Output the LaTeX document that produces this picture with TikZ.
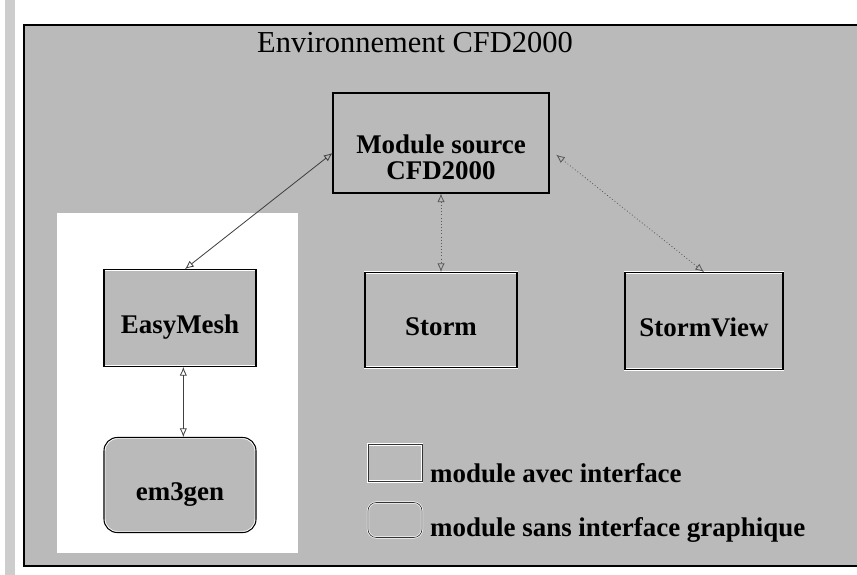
\documentclass[tikz,border=0pt]{standalone}
\usepackage{fontspec}
\setmainfont{Liberation Serif}
\usetikzlibrary{arrows.meta,positioning,backgrounds}
\definecolor{scangray}{RGB}{186,186,186}
\definecolor{stripgray}{RGB}{205,205,205}

\begin{document}
\begin{tikzpicture}[
  x=0.3mm, y=-0.3mm,
  mod/.style={draw=white, double=black, double distance=0.9pt, line width=0.8pt,
              fill=scangray, font=\fontsize{23}{22}\selectfont\bfseries,
              align=center, inner sep=0pt, text height=9.5mm, text depth=0pt},
  modr/.style={mod, rounded corners=4mm},
  legbox/.style={draw=white, double=black!80, double distance=0.6pt, line width=0.6pt,
                 fill=scangray, inner sep=0pt, minimum width=16.2mm},
  legtxt/.style={font=\fontsize{23}{26}\selectfont\bfseries, inner sep=0pt, anchor=west},
  link/.style={{Latex[open,length=2.6mm,width=2.2mm]}-{Latex[open,length=2.6mm,width=2.2mm]},
               draw=black!75, line width=0.7pt},
  dots/.style={link, dotted, draw=black!65}
]
\useasboundingbox (0,0) rectangle (857,575);

% ---------------- scan frame and background ----------------
\fill[stripgray] (5,0) rectangle (15,575);
\fill[scangray] (24,25) rectangle (857,566);
\draw[line width=1.2pt] (857,25) -- (24,25) -- (24,566) -- (857,566);
\fill[white] (57,213) rectangle (298,553);

\node[font=\fontsize{26}{30}\selectfont] (title) at (415,43) {Environnement CFD2000};

% ---------------- modules ----------------
\node[mod, minimum width=64.8mm, minimum height=30mm, text height=22mm] (src) at (441,143)
  {Module source\\CFD2000};
\node[mod, minimum width=45.6mm, minimum height=29.1mm] (easy) at (180,318) {EasyMesh};
\node[mod, minimum width=45.6mm, minimum height=28.5mm] (storm) at (441,320) {Storm};
\node[mod, minimum width=47.4mm, minimum height=29.1mm] (view) at (704,321) {StormView};
\node[modr, minimum width=45.6mm, minimum height=28.5mm] (gen) at (180,485) {em3gen};

\draw[link] ([yshift=-3mm]src.west) -- ([xshift=1.5mm]easy.north);
\draw[dots] (src.south) -- (storm.north);
\draw[dots] ([xshift=2mm,yshift=-3.5mm]src.east) -- (view.north);
\draw[link] ([xshift=1mm]easy.south) -- ([xshift=1mm]gen.north);

% ---------------- legend ----------------
\node[legbox, minimum height=11.1mm] (lg1) at (395,463) {};
\node[legbox, minimum height=10.5mm, rounded corners=2.5mm] (lg2) at (395,520) {};
\node[legtxt] (lt1) at (430,473) {module avec interface};
\node[legtxt] (lt2) at (430,530) {module sans interface graphique};

\end{tikzpicture}
\end{document}
